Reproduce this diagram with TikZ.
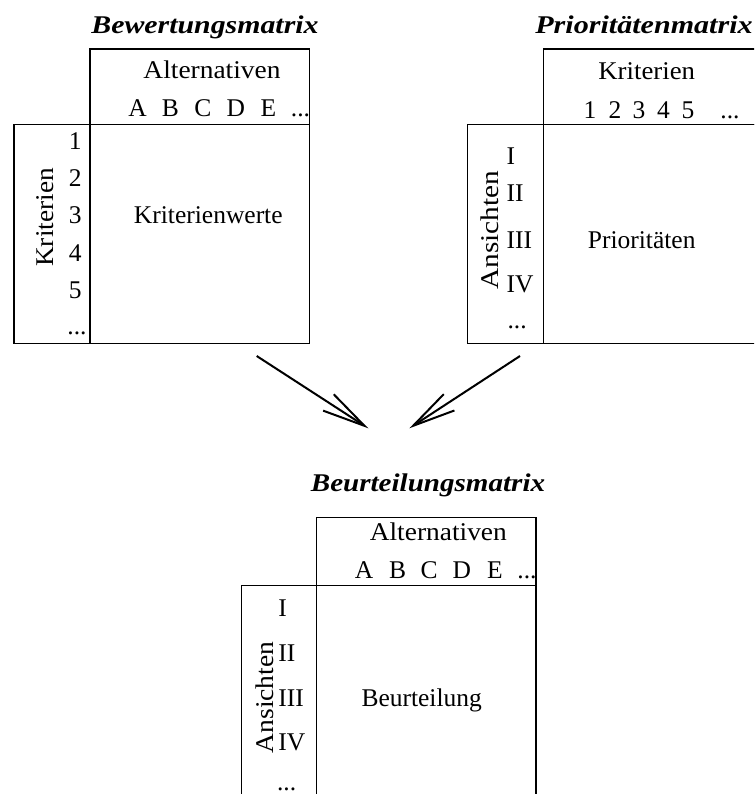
\documentclass[tikz,border=0pt]{standalone}
\usepackage{graphicx}
\usepackage{fontspec}
\setmainfont{Liberation Serif}
\usetikzlibrary{arrows.meta}
% horizontal stretch of a text, baseline kept
\newcommand{\hstretch}[2]{\scalebox{#1}[1]{#2}}
\begin{document}
\begin{tikzpicture}[x=1pt,y=-1pt,
  box/.style={draw=black, line width=1.4pt, rectangle, inner sep=0pt, outer sep=0pt, anchor=north west},
  txt/.style={inner sep=0pt, outer sep=0pt, anchor=base, font=\fontsize{25.5}{30}\selectfont},
  ttl/.style={txt, font=\fontsize{25.5}{30}\selectfont\bfseries\itshape},
  vtxt/.style={txt, rotate=90},
  rowR/.style={txt, anchor=base east},
  rowL/.style={txt, anchor=base west},
  flow/.style={line width=2pt, -{Straight Barb[length=43pt, width=19.5pt, line width=2pt]}}]
\useasboundingbox (0,0) rectangle (754,794);
\clip (0,0) rectangle (754,794);

% ---------------- Bewertungsmatrix ----------------
\node[ttl] (bwTitle) at (205,33.3) {\hstretch{1.17}{Bewertungsmatrix}};
\node[box, minimum width=219.3pt, minimum height=75.3pt] (bwHead) at (90,49) {};
\node[box, minimum width=76pt, minimum height=219pt] (bwSide) at (14,124.3) {};
\node[box, minimum width=219.3pt, minimum height=219pt] (bwMain) at (90,124.3) {};
\node[txt] (bwAlt) at (212,78.3) {\hstretch{1.075}{Alternativen}};
\foreach \c/\x [count=\i] in {A/137.5,B/170.5,C/203,D/235.8,E/268.3}
  \node[txt] (bwCol\i) at (\x,116.7) {\c};
\node[txt] (bwColDots) at (300.5,116.7) {...};
\node[vtxt] (bwKrit) at (53.3,217.5) {\hstretch{1.07}{Kriterien}};
\foreach \r/\y [count=\i] in {1/150,2/187,3/224,4/261,5/298}
  \node[rowR] (bwRow\i) at (81.7,\y) {\r};
\node[rowR] (bwRowDots) at (86.5,334) {...};
\node[txt] (bwVal) at (208.3,223.3) {Kriterienwerte};

% ---------------- Prioritaetenmatrix ----------------
\node[ttl] (prTitle) at (644,33.3) {\hstretch{1.18}{Prioritätenmatrix}};
\node[box, minimum width=219.3pt, minimum height=75.3pt] (prHead) at (543.3,49) {};
\node[box, minimum width=75.6pt, minimum height=219pt] (prSide) at (467.7,124.3) {};
\node[box, minimum width=219.3pt, minimum height=219pt] (prMain) at (543.3,124.3) {};
\node[txt] (prKrit) at (646.7,80) {\hstretch{1.05}{Kriterien}};
\foreach \c/\x [count=\i] in {1/590,2/615,3/639,4/663.5,5/688}
  \node[txt] (prCol\i) at (\x,118.3) {\c};
\node[txt] (prColDots) at (730,118.3) {...};
\node[vtxt] (prAns) at (498.3,230) {\hstretch{1.15}{Ansichten}};
\foreach \r/\y [count=\i] in {I/165,II/202,III/248,IV/292}
  \node[rowL] (prRow\i) at (506.7,\y) {\r};
\node[rowL] (prRowDots) at (507.5,328.5) {...};
\node[txt] (prVal) at (641.7,248.3) {Prioritäten};

% ---------------- connectors ----------------
\coordinate (arrLs) at (256.7,356);
\coordinate (arrLe) at (368.3,428.3);
\coordinate (arrRs) at (520,356);
\coordinate (arrRe) at (409.3,428.3);
\draw[flow] (arrLs) -- (arrLe);
\draw[flow] (arrRs) -- (arrRe);

% ---------------- Beurteilungsmatrix ----------------
\node[ttl] (buTitle) at (428,491.7) {\hstretch{1.14}{Beurteilungsmatrix}};
\node[box, minimum width=219.3pt, minimum height=68pt] (buHead) at (316.7,517.7) {};
\node[box, minimum width=75pt, minimum height=230pt] (buSide) at (241.7,585.7) {};
\node[box, minimum width=219.3pt, minimum height=230pt] (buMain) at (316.7,585.7) {};
\node[txt] (buAlt) at (438.3,540) {\hstretch{1.075}{Alternativen}};
\foreach \c/\x [count=\i] in {A/364,B/397.5,C/429,D/461.7,E/495}
  \node[txt] (buCol\i) at (\x,578.3) {\c};
\node[txt] (buColDots) at (527,578.3) {...};
\node[vtxt] (buAns) at (273.3,697.5) {\hstretch{1.08}{Ansichten}};
\foreach \r/\y [count=\i] in {I/616.7,II/661.7,III/706.7,IV/750}
  \node[rowL] (buRow\i) at (278.3,\y) {\r};
\node[rowL] (buRowDots) at (277,790.5) {...};
\node[txt] (buVal) at (421.7,706.7) {Beurteilung};
\end{tikzpicture}
\end{document}
